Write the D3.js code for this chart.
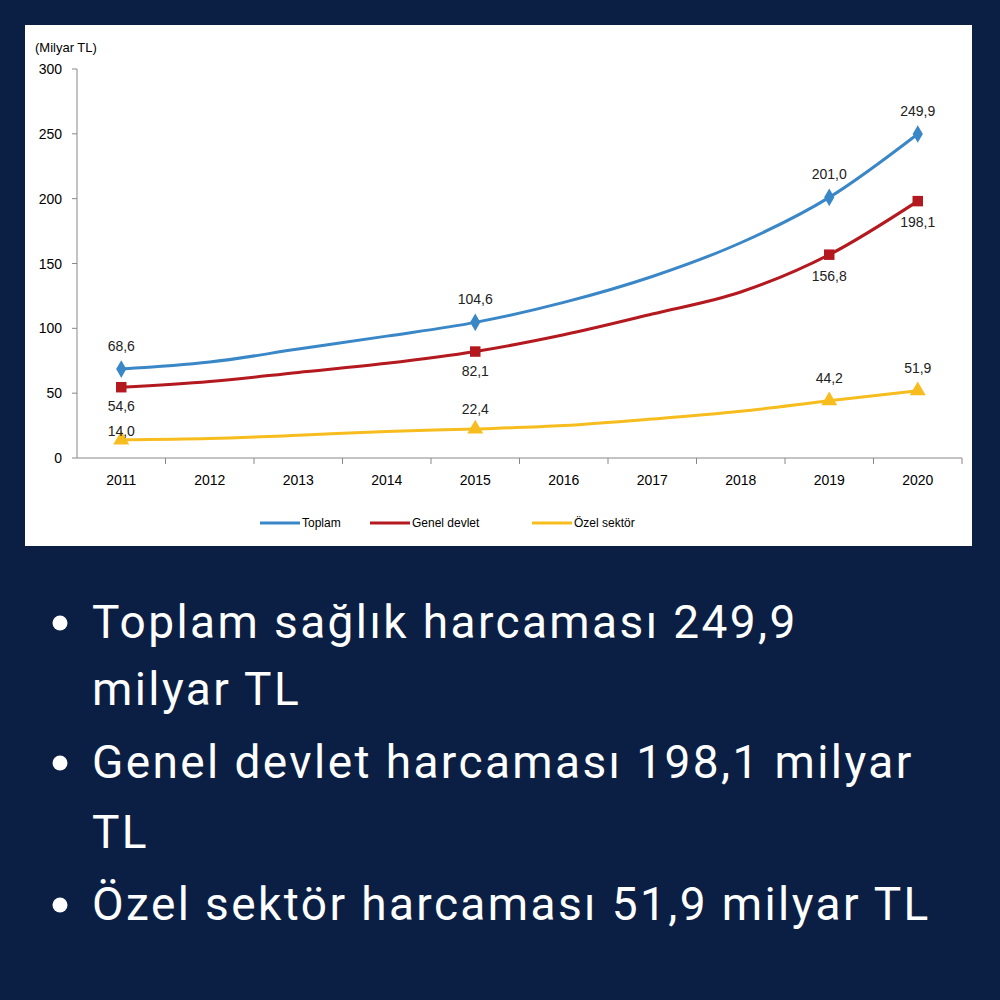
<!DOCTYPE html><html><head><meta charset="utf-8">
<script src="https://cdn.jsdelivr.net/npm/d3@7"></script>
<style>body{margin:0;background:#0b1f45}</style></head><body>
<svg id="c" width="1000" height="1000"></svg>
<script>
const years=["2011","2012","2013","2014","2015","2016","2017","2018","2019","2020"];
const toplam=[68.6,74,84,94,104.6,120,140,166,201.0,249.9];
const genel=[54.6,59,66,73,82.1,95,111,128,156.8,198.1];
const ozel=[14.0,15,17.5,20.5,22.4,25,30,36,44.2,51.9];
const yTicks=[0,50,100,150,200,250,300];
const labelIdx=[0,4,8,9];
const bullets=[["Toplam sağlık harcaması 249,9","milyar TL"],["Genel devlet harcaması 198,1 milyar","TL"],["Özel sektör harcaması 51,9 milyar TL"]];

const svg=d3.select("#c");
svg.append("rect").attr("width",1000).attr("height",1000).attr("fill","#0b1f45");
svg.append("rect").attr("x",25).attr("y",25).attr("width",947).attr("height",521).attr("fill","#fff");
const x=d3.scaleBand().domain(years).range([77,962]);
const y=d3.scaleLinear().domain([0,300]).range([458,69]);
const f="Liberation Sans, Arial, sans-serif";
const g=svg.append("g");
g.append("line").attr("x1",77).attr("x2",77).attr("y1",69).attr("y2",458).attr("stroke","#888");
g.append("line").attr("x1",77).attr("x2",962).attr("y1",458).attr("y2",458).attr("stroke","#888");
yTicks.forEach(t=>{g.append("line").attr("x1",72).attr("x2",77).attr("y1",y(t)).attr("y2",y(t)).attr("stroke","#888");
 g.append("text").attr("x",62).attr("y",y(t)+5).attr("text-anchor","end").attr("font-family",f).attr("font-size",14).text(t);});
years.forEach((yr,i)=>{g.append("line").attr("x1",x(yr)+x.bandwidth()).attr("x2",x(yr)+x.bandwidth()).attr("y1",458).attr("y2",464).attr("stroke","#888");
 g.append("text").attr("x",x(yr)+x.bandwidth()/2).attr("y",485).attr("text-anchor","middle").attr("font-family",f).attr("font-size",14).text(yr);});
g.append("text").attr("x",35).attr("y",52).attr("font-family",f).attr("font-size",13).text("(Milyar TL)");
const cx=d=>x(d)+x.bandwidth()/2;
const series=[{v:toplam,c:"#3a87c8",s:d3.symbolDiamond,name:"Toplam",off:[-18,-18,-18,-18]},
 {v:genel,c:"#b3191e",s:d3.symbolSquare,name:"Genel devlet",off:[24,24,26,26]},
 {v:ozel,c:"#f7bd1e",s:d3.symbolTriangle,name:"Özel sektör",off:[-4,-15,-18,-18]}];
const line=d3.line().curve(d3.curveMonotoneX);
series.forEach(S=>{
 g.append("path").attr("d",line(years.map((yr,i)=>[cx(yr),y(S.v[i])]))).attr("fill","none").attr("stroke",S.c).attr("stroke-width",3);
 labelIdx.forEach((i,k)=>{
  g.append("path").attr("d",d3.symbol(S.s,S.s===d3.symbolDiamond?90:110)()).attr("transform",`translate(${cx(years[i])},${y(S.v[i])})`).attr("fill",S.c);
  g.append("text").attr("x",cx(years[i])).attr("y",y(S.v[i])+S.off[k]).attr("text-anchor","middle").attr("font-family",f).attr("font-size",14).attr("fill","#222").text(S.v[i].toFixed(1).replace(".",","));
 });
});
const lx=[260,370,532];
series.forEach((S,i)=>{g.append("line").attr("x1",lx[i]).attr("x2",lx[i]+40).attr("y1",523).attr("y2",523).attr("stroke",S.c).attr("stroke-width",3);
 g.append("text").attr("x",lx[i]+42).attr("y",527).attr("font-family",f).attr("font-size",12).text(S.name);});
const bf="Roboto, sans-serif";
const rows=[[638,0,0],[705,0,1],[778,1,0],[848,1,1],[920,2,0]];
rows.forEach(([yy,b,l])=>{
 if(l===0) svg.append("circle").attr("cx",60).attr("cy",yy-15).attr("r",7.5).attr("fill","#fff");
 svg.append("text").attr("x",92).attr("y",yy).attr("font-family",bf).attr("font-size",46).attr("letter-spacing",2.4).attr("fill","#fff").text(bullets[b][l]);
});
</script></body></html>
